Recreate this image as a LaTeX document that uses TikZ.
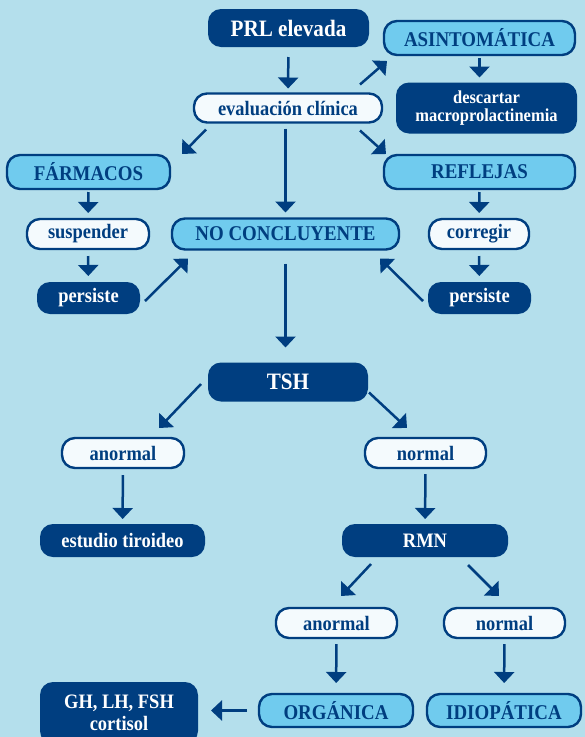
\documentclass[tikz,border=0pt]{standalone}
\usepackage{fontspec}
\setmainfont{Liberation Serif}[FakeStretch=0.9]
\usepackage{tikz}
\usetikzlibrary{arrows.meta}

\definecolor{fond}{RGB}{180,223,236}
\definecolor{marine}{RGB}{0,62,128}
\definecolor{ciel}{RGB}{112,203,238}
\definecolor{blanc}{RGB}{244,250,253}

\tikzset{
  boite/.style={rectangle,rounded corners=13pt,inner sep=0pt,outer sep=0pt,align=center},
  fonce/.style={boite,fill=marine,text=white},
  clair/.style={boite,fill=ciel,draw=marine,line width=2.4pt,text=marine},
  blanche/.style={boite,fill=blanc,draw=marine,line width=2.4pt,text=marine},
  fleche/.style={-{Triangle[width=20pt,length=11pt]},line width=2.5pt,draw=marine,fill=marine},
  titre/.style={font=\fontsize{23.5}{25}\selectfont\bfseries},
  moyen/.style={font=\fontsize{21}{23}\selectfont\bfseries},
  petit/.style={font=\fontsize{20.5}{22}\selectfont\bfseries},
  mini/.style={font=\fontsize{18.3}{18}\selectfont\bfseries}
}

\begin{document}
\begin{tikzpicture}[x=1pt,y=1pt]
      % Fond et cadre de la figure
      \fill[fond] (0,0) rectangle (585,-737);
      \useasboundingbox (0,0) rectangle (585,-737);

      % Partie haute : évaluation clinique
      \node[fonce,titre,minimum width=161pt,minimum height=38pt] (PRL) at (288.5,-28) {PRL elevada};
      \node[clair,moyen,minimum width=191pt,minimum height=34pt] (Asint) at (479.5,-38) {ASINTOMÁTICA};
      \node[fonce,mini,minimum width=181pt,minimum height=51pt] (Desc) at (486.5,-108) {descartar\\macroprolactinemia};
      \node[blanche,petit,minimum width=188pt,minimum height=29pt] (Eval) at (288,-108) {evaluación clínica};
      \node[clair,moyen,minimum width=163pt,minimum height=34pt] (Farm) at (88.5,-172) {FÁRMACOS};
      \node[clair,moyen,minimum width=191pt,minimum height=34pt] (Refl) at (479.5,-172) {REFLEJAS};
      \node[blanche,petit,minimum width=122pt,minimum height=30pt] (Susp) at (88,-234) {suspender};
      \node[clair,moyen,minimum width=227pt,minimum height=31pt] (NoConc) at (285.5,-234) {NO CONCLUYENTE};
      \node[blanche,petit,minimum width=100pt,minimum height=30pt] (Corr) at (479,-234) {corregir};
      \node[fonce,petit,minimum width=103pt,minimum height=32pt] (Pers_G) at (88.5,-298) {persiste};
      \node[fonce,petit,minimum width=103pt,minimum height=32pt] (Pers_D) at (479.5,-298) {persiste};

      % Partie basse : bilan
      \node[fonce,titre,minimum width=160pt,minimum height=39pt] (TSH) at (288,-382) {TSH};
      \node[blanche,petit,minimum width=122pt,minimum height=30pt] (Anor_G) at (123,-453) {anormal};
      \node[blanche,petit,minimum width=121pt,minimum height=30pt] (Norm_G) at (425.5,-453) {normal};
      \node[fonce,petit,minimum width=165pt,minimum height=33pt] (Etud) at (122.5,-540.5) {estudio tiroideo};
      \node[fonce,petit,minimum width=166pt,minimum height=33pt] (RMN) at (425,-540.5) {RMN};
      \node[blanche,petit,minimum width=121pt,minimum height=30pt] (Anor_D) at (336.5,-623) {anormal};
      \node[blanche,petit,minimum width=121pt,minimum height=30pt] (Norm_D) at (504.5,-623) {normal};
      \node[fonce,petit,minimum width=158pt,minimum height=62pt] (Hormo) at (119,-713) {GH, LH, FSH\\cortisol};
      \node[clair,moyen,minimum width=154pt,minimum height=33pt] (Orga) at (336,-710.5) {ORGÁNICA};
      \node[clair,moyen,minimum width=154pt,minimum height=33pt] (Idio) at (504,-710.5) {IDIOPÁTICA};

      % Flèches de la partie haute
      \draw[fleche,shorten <=10pt,shorten >=5pt] (PRL) -- (Eval);
      \draw[fleche] ([xshift=-22pt,yshift=9pt]Eval.north east) -- ([xshift=3pt,yshift=-6pt]Asint.south west);
      \draw[fleche,shorten <=3pt,shorten >=5pt] (Asint.south) -- (Asint.south |- Desc.north);
      \draw[fleche] ([xshift=12pt,yshift=-7pt]Eval.south west) -- ([xshift=12pt,yshift=1pt]Farm.north east);
      \draw[fleche,shorten <=6pt,shorten >=6pt] (NoConc.north |- Eval.south) -- (NoConc.north);
      \draw[fleche] ([xshift=-22pt,yshift=-8pt]Eval.south east) -- ([xshift=2pt,yshift=1pt]Refl.north west);
      \draw[fleche,shorten <=3pt,shorten >=6pt] (Farm) -- (Susp);
      \draw[fleche,shorten <=7pt,shorten >=6pt] (Susp) -- (Pers_G);
      \draw[fleche,shorten <=3pt,shorten >=6pt] (Refl) -- (Corr);
      \draw[fleche,shorten <=7pt,shorten >=6pt] (Corr) -- (Pers_D);
      \draw[fleche] ([xshift=5pt,yshift=-3pt]Pers_G.east) -- ([xshift=16pt,yshift=-9pt]NoConc.south west);
      \draw[fleche] ([xshift=-5pt,yshift=-3pt]Pers_D.west) -- ([xshift=-19pt,yshift=-9pt]NoConc.south east);
      \draw[fleche,shorten <=14pt,shorten >=15pt] (NoConc.south) -- (NoConc.south |- TSH.north);

      % Flèches de la partie basse
      \draw[fleche] ([xshift=-7pt,yshift=-2pt]TSH.west) -- ([xshift=-25pt,yshift=10pt]Anor_G.north east);
      \draw[fleche] ([xshift=1pt,yshift=9pt]TSH.south east) -- ([xshift=-18.5pt,yshift=10pt]Norm_G.north);
      \draw[fleche,shorten <=7pt,shorten >=5pt] (Anor_G) -- (Etud);
      \draw[fleche,shorten <=6pt,shorten >=5pt] (Norm_G) -- (RMN);
      \draw[fleche] ([xshift=29pt,yshift=-7pt]RMN.south west) -- ([xshift=4.5pt,yshift=12pt]Anor_D.north);
      \draw[fleche] ([xshift=-40pt,yshift=-8pt]RMN.south east) -- ([xshift=-5.5pt,yshift=12pt]Norm_D.north);
      \draw[fleche,shorten <=6pt,shorten >=11pt] (Anor_D) -- (Orga);
      \draw[fleche,shorten <=6pt,shorten >=11pt] (Norm_D) -- (Idio);
      \draw[fleche,shorten <=12pt,shorten >=13pt] (Orga.west) -- (Orga.west -| Hormo.east);
    \end{tikzpicture}
\end{document}
